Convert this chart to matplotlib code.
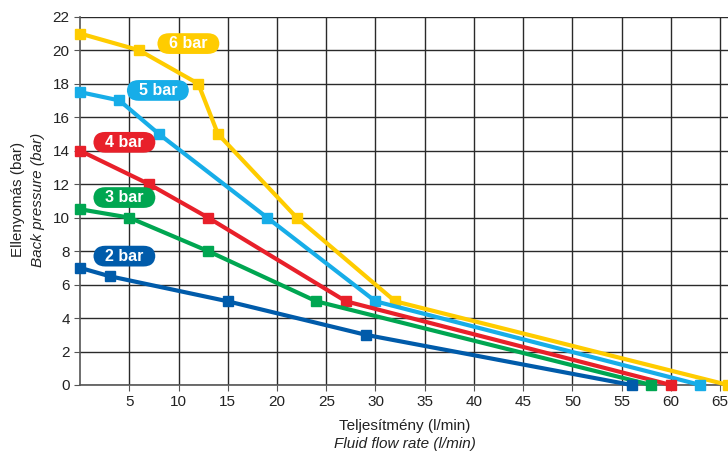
import matplotlib
matplotlib.use("Agg")
import matplotlib.pyplot as plt

plt.rcParams['font.family'] = ['Liberation Sans', 'DejaVu Sans']

series_names = ["6 bar", "5 bar", "4 bar", "3 bar", "2 bar"]
colors = ["#FFCC00", "#17ADE8", "#E8202A", "#00A651", "#005BAA"]

flow_6 = [0, 6, 12, 14, 22, 32, 65.8]
pres_6 = [21, 20, 18, 15, 10, 5, 0]
flow_5 = [0, 4, 8, 19, 30, 63]
pres_5 = [17.5, 17, 15, 10, 5, 0]
flow_4 = [0, 7, 13, 27, 60]
pres_4 = [14, 12, 10, 5, 0]
flow_3 = [0, 5, 13, 24, 58]
pres_3 = [10.5, 10, 8, 5, 0]
flow_2 = [0, 3, 15, 29, 56]
pres_2 = [7, 6.5, 5, 3, 0]

flows = [flow_6, flow_5, flow_4, flow_3, flow_2]
pressures = [pres_6, pres_5, pres_4, pres_3, pres_2]
label_pos = [(11, 20.4), (7.9, 17.6), (4.5, 14.5), (4.5, 11.2), (4.5, 7.7)]

x_ticks = list(range(5, 70, 5))
y_ticks = list(range(0, 24, 2))

fig = plt.figure(figsize=(7.28, 4.54), dpi=100)
ax = fig.add_axes([0.11, 0.152, 0.89, 0.811])

ax.set_xlim(0, 65.8)
ax.set_ylim(0, 22)
ax.set_xticks(x_ticks)
ax.set_yticks(y_ticks)
ax.grid(True, color="#2a2a2a", linewidth=1.0)
ax.set_axisbelow(True)
for s in ["top", "right"]:
    ax.spines[s].set_visible(False)
for s in ["left", "bottom"]:
    ax.spines[s].set_color("#555555")
    ax.spines[s].set_linewidth(1.2)
ax.tick_params(axis="both", labelsize=11, length=4, color="#555555", labelcolor="#222222")

for name, c, xs, ys, (lx, ly) in zip(series_names, colors, flows, pressures, label_pos):
    ax.plot(xs, ys, color=c, linewidth=3.0, marker="s", markersize=6.5,
            solid_joinstyle="miter", clip_on=False, zorder=3)
    ax.text(lx, ly, "  " + name + "  ", color="white", fontsize=11.5, fontweight="bold",
            ha="center", va="center", zorder=4,
            bbox=dict(boxstyle="round,pad=0.18,rounding_size=0.75", fc=c, ec="none"))

fig.text(0.025, 0.56, "Ellenyomás (bar)", rotation=90, ha="center", va="center",
         fontsize=11, color="#222222")
fig.text(0.052, 0.56, "Back pressure (bar)", rotation=90, ha="center", va="center",
         fontsize=11, style="italic", color="#222222")
fig.text(0.556, 0.062, "Teljesítmény (l/min)", ha="center", va="center",
         fontsize=11, color="#222222")
fig.text(0.556, 0.021, "Fluid flow rate (l/min)", ha="center", va="center",
         fontsize=11, style="italic", color="#222222")

fig.savefig("out.png", dpi=100)
